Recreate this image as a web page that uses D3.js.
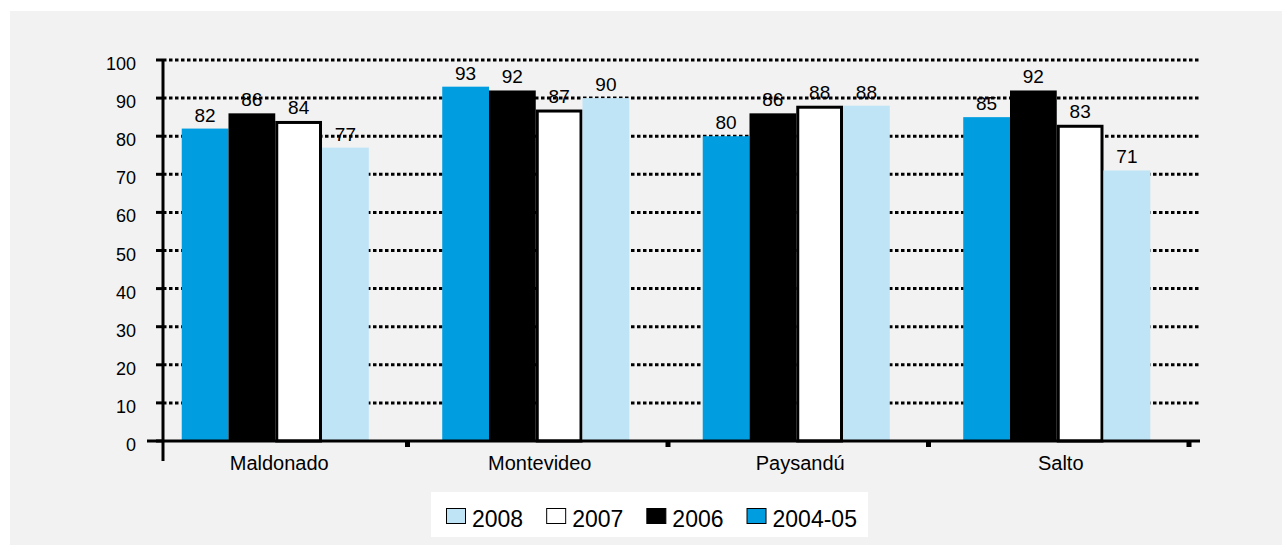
<!DOCTYPE html>
<html>
<head>
<meta charset="utf-8">
<script src="https://cdn.jsdelivr.net/npm/d3@7"></script>
<style>
  html, body { margin: 0; padding: 0; background: #ffffff; }
  svg { display: block; }
  text { font-family: "Liberation Sans", Arial, sans-serif; fill: #000; }
</style>
</head>
<body>
<svg id="chart" width="1282" height="545"></svg>
<script>
const categories = ["Maldonado", "Montevideo", "Paysandú", "Salto"];
const seriesNames = ["2004-05", "2006", "2007", "2008"];
const values2004_05 = [82, 93, 80, 85];
const values2006 = [86, 92, 86, 92];
const values2007 = [84, 87, 88, 83];
const values2008 = [77, 90, 88, 71];
const yTicks = [0, 10, 20, 30, 40, 50, 60, 70, 80, 90, 100];
const legendOrder = ["2008", "2007", "2006", "2004-05"];

const seriesValues = {
  "2004-05": values2004_05,
  "2006": values2006,
  "2007": values2007,
  "2008": values2008
};
const fills = { "2004-05": "#009EE0", "2006": "#000000", "2007": "#ffffff", "2008": "#BEE4F6" };
const strokes = { "2004-05": "none", "2006": "none", "2007": "#000000", "2008": "none" };

const svg = d3.select("#chart");

// panel background
svg.append("rect").attr("x", 10).attr("y", 11).attr("width", 1272).attr("height", 534).attr("fill", "#F2F2F2");

const plotLeft = 163, plotRight = 1200, yTop = 60, yBottom = 441;

const y = d3.scaleLinear().domain([0, 100]).range([yBottom, yTop]);
const x0 = d3.scaleBand().domain(categories).range([145, 1187]).paddingInner(0.282).paddingOuter(0.141);
const x1 = d3.scaleBand().domain(seriesNames).range([0, x0.bandwidth()]).padding(0);

// gridlines
svg.append("g").selectAll("line").data(yTicks.filter(t => t > 0)).join("line")
  .attr("x1", plotLeft).attr("x2", plotRight)
  .attr("y1", d => y(d)).attr("y2", d => y(d))
  .attr("stroke", "#000").attr("stroke-width", 3)
  .attr("stroke-dasharray", "3.5,2.5");

// bars
const groups = svg.append("g").selectAll("g").data(categories).join("g")
  .attr("transform", d => `translate(${x0(d)},0)`);

groups.each(function(cat, ci) {
  const g = d3.select(this);
  seriesNames.forEach(s => {
    const v = seriesValues[s][ci];
    const isOutlined = strokes[s] !== "none";
    const inset = isOutlined ? 1.5 : 0;
    g.append("rect")
      .attr("x", x1(s) + inset)
      .attr("y", y(v) + inset)
      .attr("width", x1.bandwidth() - 2 * inset)
      .attr("height", y(0) - y(v) - inset)
      .attr("fill", fills[s])
      .attr("stroke", strokes[s])
      .attr("stroke-width", isOutlined ? 3 : 0);
  });
  seriesNames.forEach(s => {
    const v = seriesValues[s][ci];
    g.append("text")
      .attr("x", x1(s) + x1.bandwidth() / 2)
      .attr("y", y(v) - 7)
      .attr("text-anchor", "middle")
      .attr("font-size", 19)
      .text(v);
  });
});

// x axis line
svg.append("line").attr("x1", 147).attr("x2", plotRight).attr("y1", yBottom).attr("y2", yBottom)
  .attr("stroke", "#000").attr("stroke-width", 3);
// category boundary ticks
const bounds = categories.slice(1).map(c => x0(c) - x0.step() * x0.paddingInner() / 2).concat([x0.range()[1]]);
svg.append("g").selectAll("line").data(bounds).join("line")
  .attr("x1", d => d + 2).attr("x2", d => d + 2)
  .attr("y1", yBottom).attr("y2", yBottom + 6)
  .attr("stroke", "#000").attr("stroke-width", 5);

// y axis
svg.append("line").attr("x1", plotLeft).attr("x2", plotLeft).attr("y1", yTop).attr("y2", 461)
  .attr("stroke", "#000").attr("stroke-width", 3);
svg.append("g").selectAll("line").data(yTicks).join("line")
  .attr("x1", 156).attr("x2", plotLeft)
  .attr("y1", d => y(d)).attr("y2", d => y(d))
  .attr("stroke", "#000").attr("stroke-width", 3);
svg.append("g").selectAll("text").data(yTicks).join("text")
  .attr("x", 136).attr("y", d => y(d) + 10)
  .attr("text-anchor", "end").attr("font-size", 18)
  .text(d => d);

// category labels
svg.append("g").selectAll("text").data(categories).join("text")
  .attr("x", d => x0(d) + x0.bandwidth() / 2 + 4)
  .attr("y", 470)
  .attr("text-anchor", "middle").attr("font-size", 20)
  .text(d => d);

// legend
svg.append("rect").attr("x", 431).attr("y", 492).attr("width", 437).attr("height", 45).attr("fill", "#ffffff");
let lx = 446;
legendOrder.forEach(s => {
  svg.append("rect").attr("x", lx + 0.5).attr("y", 508.5).attr("width", 19).attr("height", 15)
    .attr("fill", fills[s]).attr("stroke", "#000").attr("stroke-width", 1);
  const t = svg.append("text").attr("x", lx + 26).attr("y", 527).attr("font-size", 23).text(s);
  const w = t.node().getComputedTextLength();
  lx = lx + 26 + w + 23;
});
</script>
</body>
</html>
